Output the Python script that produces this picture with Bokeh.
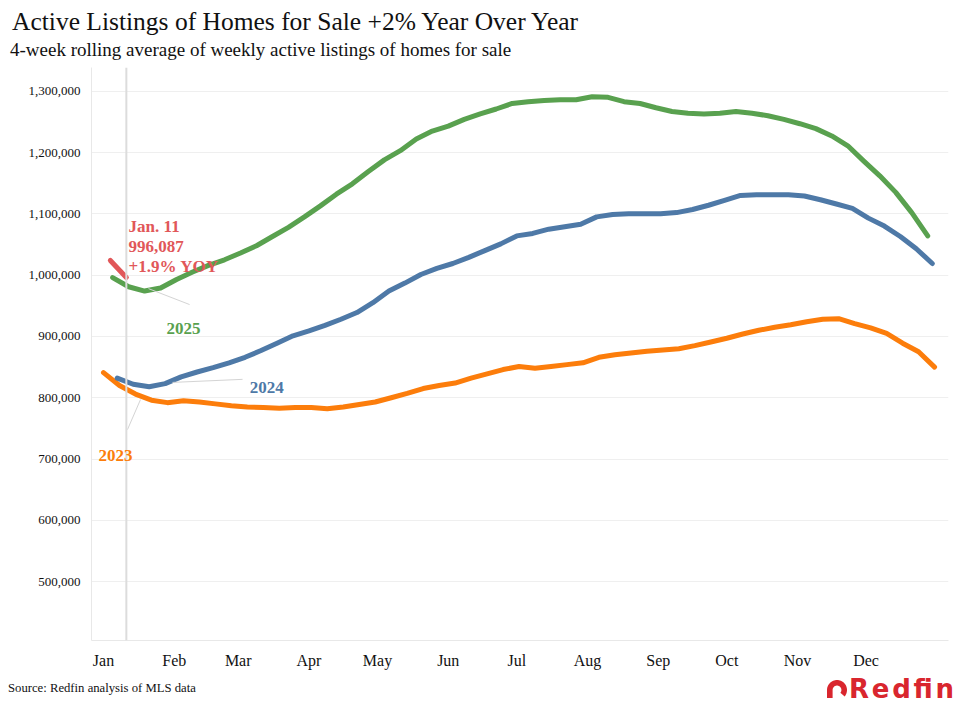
import numpy as np
import pandas as pd
from bokeh.plotting import figure
from bokeh.layouts import column
from bokeh.models import (Range1d, FixedTicker, NumeralTickFormatter, Span, Label, Div)
from bokeh.embed import file_html
from bokeh.resources import INLINE

# ---------------- data ----------------
month_labels = ["Jan", "Feb", "Mar", "Apr", "May", "Jun",
                "Jul", "Aug", "Sep", "Oct", "Nov", "Dec"]
month_start_days = [0, 31, 59, 90, 120, 151, 181, 212, 243, 273, 304, 334]
y_ticks = [500000, 600000, 700000, 800000, 900000, 1000000, 1100000, 1200000, 1300000]

# weekly active listings (thousands), 4-week rolling average
start_2023 = "2023-01-01"
values_2023_k = [841, 820, 806, 796, 792, 795, 793, 790, 787, 785, 784, 783, 784, 784,
                 782, 785, 789, 793, 800, 807, 815, 820, 824, 832, 839, 846, 851, 848,
                 851, 854, 857, 866, 870, 873, 876, 878, 880, 885, 891, 897, 904, 910,
                 915, 919, 924, 928, 929, 921, 914, 905, 889, 875, 850]

start_2024 = "2024-01-07"
values_2024_k = [832, 822, 818, 823, 834, 842, 849, 857, 866, 877, 889, 901, 909, 918,
                 928, 939, 955, 974, 987, 1001, 1011, 1019, 1029, 1040, 1051, 1064, 1068,
                 1075, 1079, 1083, 1095, 1099, 1100, 1100, 1100, 1102, 1107, 1114, 1122,
                 1130, 1131, 1131, 1131, 1129, 1123, 1116, 1109, 1093, 1080, 1063, 1043,
                 1019]

start_2025 = "2025-01-05"
values_2025_k = [996, 981, 974, 979, 993, 1005, 1016, 1025, 1036, 1048, 1063, 1078, 1095,
                 1113, 1132, 1149, 1169, 1188, 1203, 1222, 1235, 1243, 1254, 1263, 1271,
                 1280, 1283, 1285, 1286, 1286, 1291, 1290, 1283, 1280, 1273, 1267, 1264,
                 1263, 1264, 1267, 1264, 1260, 1254, 1247, 1239, 1227, 1211, 1186, 1162,
                 1135, 1102, 1064]

start_2026 = "2026-01-04"
values_2026_k = [1024, 996.087]

latest_label = ["Jan. 11", "996,087", "+1.9% YOY"]
latest_day = 10

title_text = "Active Listings of Homes for Sale +2% Year Over Year"
subtitle_text = "4-week rolling average of weekly active listings of homes for sale"
source_text = "Source: Redfin analysis of MLS data"
brand_text = "Redfin"

colors = {"2023": "#fc7d0b", "2024": "#4e79a7", "2025": "#59a14f", "2026": "#e15759"}
serif = "Liberation Serif"
W = 959
HEAD, MAIN = 62, 610
FOOT = 710 - HEAD - MAIN


def series(start, vals_k):
    d = pd.date_range(start, periods=len(vals_k), freq="7D")
    x = (d.dayofyear - 1).to_numpy()
    y = np.array(vals_k) * 1000.0
    return x, y


def txt_style(family, size, weight="normal"):
    return (f"font-family:'{family}';font-size:{size}px;font-weight:{weight};"
            f"font-style:normal;")


# ---------------- header ----------------
head_html = (
    f'<svg xmlns="http://www.w3.org/2000/svg" width="{W}" height="{HEAD}" '
    f'style="display:block">'
    f'<text x="12" y="29.5" style="{txt_style(serif, 25.5)}" fill="#111111">'
    f'{title_text}</text>'
    f'<text x="10" y="55.5" style="{txt_style(serif, 19)}" fill="#111111">'
    f'{subtitle_text}</text></svg>'
)
head = Div(text=head_html, width=W, height=HEAD, margin=(0, 0, 0, 0))

# ---------------- main chart ----------------
p = figure(width=W, height=MAIN, output_backend="svg", toolbar_location=None,
           x_range=Range1d(-5.26, 370.1), y_range=Range1d(404000, 1338700),
           min_border_left=91, min_border_right=11, min_border_top=5,
           min_border_bottom=32, outline_line_color=None)
p.title.text = ""

p.xaxis.ticker = FixedTicker(ticks=month_start_days)
p.xaxis.major_label_overrides = {d: m for d, m in zip(month_start_days, month_labels)}
p.xaxis.major_tick_line_color = None
p.xaxis.minor_tick_line_color = None
p.xaxis.axis_line_color = "#e8e8e8"
p.xaxis.major_label_text_font = serif
p.xaxis.major_label_text_font_size = "16px"
p.xaxis.major_label_text_color = "#111111"
p.xaxis.major_label_standoff = 5

p.yaxis.ticker = FixedTicker(ticks=y_ticks)
p.yaxis.formatter = NumeralTickFormatter(format="0,0")
p.yaxis.major_tick_line_color = None
p.yaxis.minor_tick_line_color = None
p.yaxis.axis_line_color = "#e8e8e8"
p.yaxis.major_label_text_font = serif
p.yaxis.major_label_text_font_size = "13px"
p.yaxis.major_label_text_color = "#111111"
p.yaxis.major_label_standoff = 5

p.xgrid.grid_line_color = None
p.ygrid.grid_line_color = "#efefef"
p.ygrid.grid_line_width = 1

p.add_layout(Span(location=latest_day, dimension="height", line_color="#dcdcdc",
                  line_width=2))

for name, start, vals in [("2023", start_2023, values_2023_k),
                          ("2024", start_2024, values_2024_k),
                          ("2025", start_2025, values_2025_k),
                          ("2026", start_2026, values_2026_k)]:
    x, y = series(start, vals)
    p.line(x, y, line_color=colors[name], line_width=5, line_cap="round",
           line_join="round")

conn_color = "#d4d4d4"
p.line([19.7, 37.7], [978000, 952000], line_color=conn_color, line_width=1)
p.line([30.2, 60.9], [825000, 830000], line_color=conn_color, line_width=1)
p.line([16.2, 10.5], [797000, 748000], line_color=conn_color, line_width=1)

for txt, xx, yy, c in [("2025", 27.6, 913000, colors["2025"]),
                       ("2024", 64.0, 817000, colors["2024"]),
                       ("2023", -2.2, 706000, colors["2023"])]:
    p.add_layout(Label(x=xx, y=yy, text=txt, text_font=serif, text_font_size="17px",
                       text_font_style="bold", text_color=c,
                       text_baseline="alphabetic"))

for i, txt in enumerate(latest_label):
    p.add_layout(Label(x=11, y=1079000 - i * 32600, text=txt, text_font=serif,
                       text_font_size="17px", text_font_style="bold",
                       text_color=colors["2026"], text_baseline="alphabetic"))

# ---------------- footer ----------------
logo_red = "#d9262e"
cx, cy, R, r = 837.0, 18.0, 10.0, 4.4
th = np.linspace(np.radians(-40), np.pi, 40)
pts = ([(cx + R * np.cos(t), cy - R * np.sin(t)) for t in th]
       + [(cx - R, cy + 8), (cx - r, cy + 8)]
       + [(cx + r * np.cos(t), cy - r * np.sin(t)) for t in th[::-1]])
path_d = "M " + " L ".join(f"{a:.2f} {b:.2f}" for a, b in pts) + " Z"
foot_html = (
    f'<svg xmlns="http://www.w3.org/2000/svg" width="{W}" height="{FOOT}" '
    f'style="display:block">'
    f'<text x="8" y="19.7" style="{txt_style(serif, 12.7)}" fill="#111111">'
    f'{source_text}</text>'
    f'<path d="{path_d}" fill="{logo_red}"/>'
    f'<text x="849" y="26" style="{txt_style("DejaVu Sans", 26, "bold")}" '
    f'fill="{logo_red}" textLength="105" lengthAdjust="spacing">'
    f'{brand_text}</text></svg>'
)
foot = Div(text=foot_html, width=W, height=FOOT, margin=(0, 0, 0, 0))

layout = column(head, p, foot, spacing=0)
open("out.html", "w").write(file_html(layout, INLINE))
